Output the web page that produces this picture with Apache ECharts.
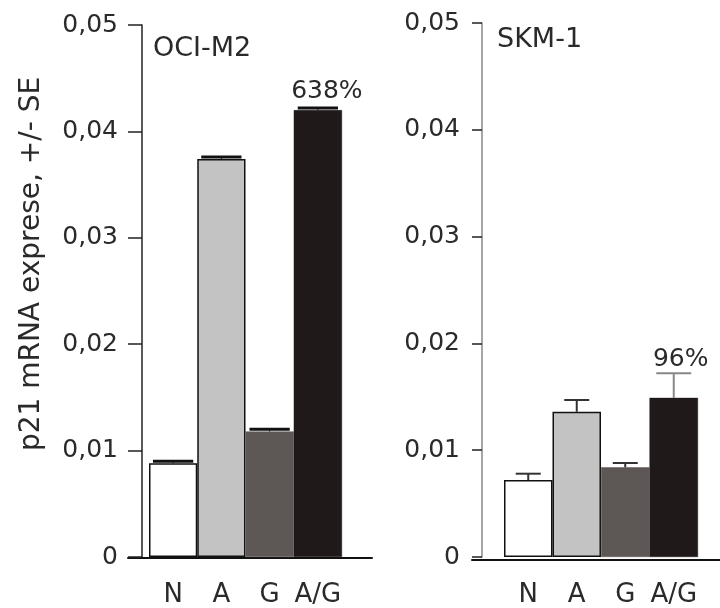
<!DOCTYPE html>
<html>
<head>
<meta charset="utf-8">
<script src="https://cdn.jsdelivr.net/npm/echarts@6/dist/echarts.min.js"></script>
<style>
  html, body { margin: 0; padding: 0; background: #fff; }
  #chart { width: 720px; height: 608px; }
</style>
</head>
<body>
<div id="chart"></div>
<script>
// Datos
const categories = ['N', 'A', 'G', 'A/G'];
const ociMean = [0.0088, 0.0374, 0.0118, 0.0420];
const ociErr = [0.0002, 0.0002, 0.0002, 0.0002];
const skmMean = [0.0072, 0.0136, 0.0084, 0.0149];
const skmErr = [0.0006, 0.0011, 0.0004, 0.0023];
const panelTitles = ['OCI-M2', 'SKM-1'];
const pctLabels = ['638%', '96%'];
const yName = 'p21 mRNA exprese, +/- SE';

const fills = ['#ffffff', '#c3c3c3', '#5d5856', '#1f1a19'];
const borders = ['#111', '#111', '#5d5856', '#1f1a19'];
const FONT = 'DejaVu Sans';
const TXT = '#2a2a2a';

const chart = echarts.init(document.getElementById('chart'));

function tickLabel(v) {
    return v === 0 ? '0' : v.toFixed(2).replace('.', ',');
}

// Serie de barras de un panel
function barSeries(idx, means, pctDist, pctOffset) {
    return {
        type: 'bar',
        xAxisIndex: idx, yAxisIndex: idx,
        barWidth: '100%',
        z: 2,
        data: means.map((v, i) => ({
            value: v,
            itemStyle: { color: fills[i], borderColor: borders[i], borderWidth: i < 2 ? 1.5 : 0.5 },
            label: i === 3 ? {
                show: true, position: 'top', distance: pctDist, offset: pctOffset,
                formatter: pctLabels[idx / 2], fontFamily: FONT, fontSize: 25, color: TXT
            } : { show: false }
        }))
    };
}

// Barras de error (+SE)
function errSeries(idx, means, errs, capFn) {
    return {
        type: 'custom',
        xAxisIndex: idx, yAxisIndex: idx,
        z: 3,
        data: means.map((v, i) => [i, v, v + errs[i]]),
        renderItem: function (params, api) {
            const i = api.value(0);
            const base = api.coord([i, api.value(1)]);
            const top = api.coord([i, api.value(2)]);
            const bw = api.size([1, 0])[0];
            const cap = capFn(i, bw);
            return {
                type: 'group',
                children: [
                    { type: 'line', shape: { x1: top[0], y1: base[1], x2: top[0], y2: top[1] },
                      style: { stroke: cap.color, lineWidth: cap.stem } },
                    { type: 'line', shape: { x1: top[0] - cap.w / 2, y1: top[1], x2: top[0] + cap.w / 2, y2: top[1] },
                      style: { stroke: cap.color, lineWidth: cap.lw } }
                ]
            };
        }
    };
}

function valueAxis(idx, offset, lineColor, tickLen, margin, withName) {
    const ax = {
        type: 'value', gridIndex: idx,
        min: 0, max: 0.05, interval: 0.01,
        offset: offset,
        axisLine: { show: true, lineStyle: { color: lineColor, width: 1.5 } },
        axisTick: { show: true, length: tickLen, lineStyle: { color: '#222', width: 1.5 } },
        axisLabel: { formatter: tickLabel, margin: margin, fontFamily: FONT, fontSize: 25, color: TXT },
        splitLine: { show: false }
    };
    if (withName) {
        Object.assign(ax, {
            name: yName, nameLocation: 'middle', nameRotate: 90, nameGap: 96,
            nameTextStyle: { fontFamily: FONT, fontSize: 28, color: TXT, padding: [0, 0, 0, 54] }
        });
    }
    return ax;
}

function catAxis(idx) {
    return {
        type: 'category', gridIndex: idx, data: categories,
        axisLine: { show: false }, axisTick: { show: false },
        axisLabel: { interval: 0, margin: 25, fontFamily: FONT, fontSize: 26, color: TXT }
    };
}

// Ejes auxiliares: sólo la línea base, más ancha que las barras
function baseAxisX(idx) {
    return {
        type: 'value', gridIndex: idx, min: 0, max: 1,
        axisLine: { show: true, lineStyle: { color: '#111', width: 2 } },
        axisTick: { show: false }, axisLabel: { show: false }, splitLine: { show: false }
    };
}
function baseAxisY(idx) {
    return { type: 'value', gridIndex: idx, min: 0, max: 1, show: false };
}

chart.setOption({
    backgroundColor: '#fff',
    animation: false,
    title: [
        { text: panelTitles[0], left: 148, top: 30, textStyle: { fontFamily: FONT, fontSize: 27, fontWeight: 'normal', color: TXT } },
        { text: panelTitles[1], left: 492, top: 21, textStyle: { fontFamily: FONT, fontSize: 27, fontWeight: 'normal', color: TXT } }
    ],
    grid: [
        { left: 149, top: 25, width: 193, height: 533 },
        { left: 128, top: 25, width: 244, height: 533 },
        { left: 504, top: 23, width: 194, height: 537 },
        { left: 472, top: 23, width: 248, height: 537 }
    ],
    xAxis: [catAxis(0), baseAxisX(1), catAxis(2), baseAxisX(3)],
    yAxis: [
        valueAxis(0, 7, '#222', 14, 24, true),
        baseAxisY(1),
        valueAxis(2, 22, '#888', 10, 22, false),
        baseAxisY(3)
    ],
    series: [
        barSeries(0, ociMean, 6, [9, 0]),
        errSeries(0, ociMean, ociErr, (i, bw) => ({ w: bw - 8, lw: 3, stem: 1, color: '#111' })),
        barSeries(2, skmMean, 26, [7, 0]),
        errSeries(2, skmMean, skmErr, (i, bw) => i === 3
            ? { w: 35, lw: 2, stem: 2, color: '#888' }
            : { w: 25, lw: 2, stem: 2, color: '#333' })
    ]
});

window.addEventListener('resize', () => chart.resize());
</script>
</body>
</html>
